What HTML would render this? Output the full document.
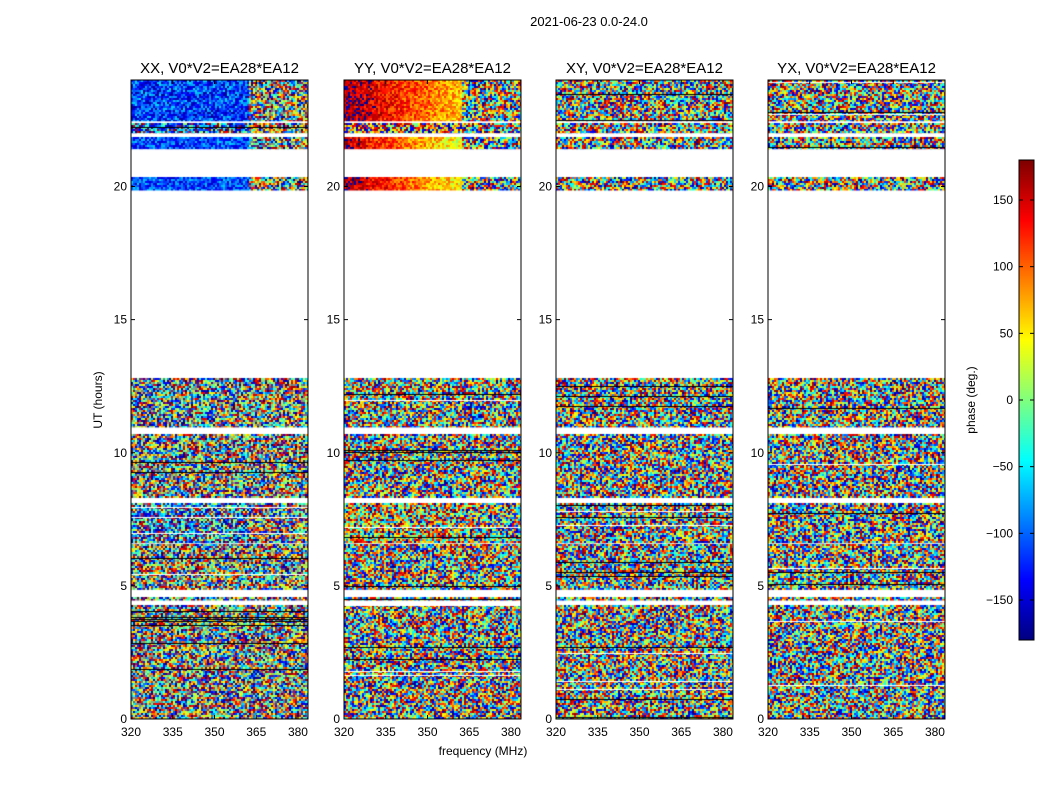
<!DOCTYPE html>
<html><head><meta charset="utf-8"><style>
body{margin:0;background:#fff;width:1050px;height:800px;overflow:hidden;font-family:"Liberation Sans",sans-serif}
svg text{font-family:"Liberation Sans",sans-serif}
</style></head><body>
<svg id="fig" width="1050" height="800" xmlns="http://www.w3.org/2000/svg">
<text x="589" y="26" font-size="13" text-anchor="middle">2021-06-23 0.0-24.0</text>
<text x="483" y="755" font-size="12" text-anchor="middle">frequency (MHz)</text>
<text x="102" y="400" font-size="12" text-anchor="middle" transform="rotate(-90 102 400)">UT (hours)</text>
<text x="975" y="400" font-size="12" text-anchor="middle" transform="rotate(-90 975 400)">phase (deg.)</text>
<g id="panels"></g>
<g id="cbar"></g>
</svg>
<script>
const panelTitles=["XX, V0*V2=EA28*EA12","YY, V0*V2=EA28*EA12","XY, V0*V2=EA28*EA12","YX, V0*V2=EA28*EA12"];
const xTicks=[320,335,350,365,380];
const yTicks=[0,5,10,15,20];
const cbTicks=[-150,-100,-50,0,50,100,150];
// time bands with data (hours)
const bandStart=[0.0,4.45,4.85,6.6,8.3,10.95,19.85,21.4,22.0,22.45];
const bandEnd=[4.25,4.55,6.55,8.1,10.7,12.8,20.35,21.85,22.35,24.0];
// mean phase per band per panel (deg) and noise spread (deg)
const meanXX=[0,0,0,-100,0,-60,-110,-110,-100,-115];
const meanYY=[0,0,0,60,0,40,170,160,120,170];
const meanXY=[0,0,0,0,0,0,0,0,0,0];
const meanYX=[0,0,0,0,0,0,0,0,0,0];
// phase slope across frequency (deg per MHz)
const slopeYY=[0,0,0,0,0,0,-3,-3,0,-2.5];
const spreadXX=[180,180,180,140,180,170,50,50,120,60];
const spreadYY=[180,180,180,150,180,170,40,40,140,40];
const spreadXY=[180,180,180,180,180,180,180,180,180,180];
const spreadYX=[180,180,180,180,180,180,180,180,180,180];
const means=[meanXX,meanYY,meanXY,meanYX], spreads=[spreadXX,spreadYY,spreadXY,spreadYX];
const slopes=[null,slopeYY,null,null];
const panelX=[131,344,556,768], PW=177, PT=80, PB=719;
const fMin=320,fMax=383.6,tMin=0,tMax=24;
const NS="http://www.w3.org/2000/svg";
function jet(v){const t=Math.max(0,Math.min(1,(v+180)/360));
 const r=Math.max(0,Math.min(1,1.5-Math.abs(4*t-3))),g=Math.max(0,Math.min(1,1.5-Math.abs(4*t-2))),b=Math.max(0,Math.min(1,1.5-Math.abs(4*t-1)));
 return `rgb(${r*255|0},${g*255|0},${b*255|0})`;}
function hash(a,b,c){let h=(a*374761393+b*668265263+c*2147483647)|0;h=(h^(h>>>13))*1274126177|0;return ((h^(h>>>16))>>>0)/4294967296;}
function el(tag,attrs,parent){const e=document.createElementNS(NS,tag);for(const k in attrs)e.setAttribute(k,attrs[k]);parent.appendChild(e);return e;}
const panels=document.getElementById('panels');
panelX.forEach((px,p)=>{
 const xs=f=>px+(f-fMin)/(fMax-fMin)*PW, ys=t=>PB-(t-tMin)/(tMax-tMin)*(PB-PT);
 const g=el('g',{},panels);
 
 
 const fo=el('foreignObject',{x:px,y:PT,width:PW,height:PB-PT},g);
 const cv=document.createElement('canvas');cv.width=PW;cv.height=PB-PT;fo.appendChild(cv);
 
 
 const ctx=cv.getContext('2d');
 bandStart.forEach((s,b)=>{
  const y0=ys(bandEnd[b])-PT,y1=ys(s)-PT;
  for(let y=Math.floor(y0);y<y1;y+=2){
   for(let x=0;x<PW;x+=2){
    const f=fMin+x/PW*(fMax-fMin);
    let sp=spreads[p][b]; if(f>362&&sp<180) sp=180;
    const sl=slopes[p]?slopes[p][b]:0;
    const v=means[p][b]+sl*(f-fMin)+(hash(x,y,p*31+b)*2-1)*sp;
    let w=((v+180)%360+360)%360-180;
    ctx.fillStyle=jet(w);ctx.fillRect(x,y,2,Math.min(2,y1-y));
   }
   if(hash(y,p,b)<0.07){ctx.fillStyle=hash(y,b,p)<0.5?'#000':'#fff';ctx.fillRect(0,y,PW,1);}
  }
 });
 el('rect',{x:px,y:PT,width:PW,height:PB-PT,fill:'none',stroke:'#000','stroke-width':1},g);
 const t=el('text',{x:px+PW/2,y:73,'font-size':15,'text-anchor':'middle'},g);t.textContent=panelTitles[p];
 
 
 xTicks.forEach(v=>{const x=xs(v);el('line',{x1:x,x2:x,y1:PB,y2:PB-4,stroke:'#000'},g);el('line',{x1:x,x2:x,y1:PT,y2:PT+4,stroke:'#000'},g);
  const tx=el('text',{x:x,y:736,'font-size':12,'text-anchor':'middle'},g);tx.textContent=v;
  
  });
 yTicks.forEach(v=>{const y=ys(v);el('line',{x1:px,x2:px+4,y1:y,y2:y,stroke:'#000'},g);el('line',{x1:px+PW,x2:px+PW-4,y1:y,y2:y,stroke:'#000'},g);
  const ty=el('text',{x:px-4,y:y+4,'font-size':12,'text-anchor':'end'},g);ty.textContent=v;
  
  });
});
const cb=document.getElementById('cbar');
const CX=1019,CW=15,CT=160,CB=640,cy=v=>CB-(v+180)/360*(CB-CT);
for(let y=CT;y<CB;y++){el('rect',{x:CX,y:y,width:CW,height:1.2,fill:jet(-180+(CB-y)/(CB-CT)*360)},cb);}
el('rect',{x:CX,y:CT,width:CW,height:CB-CT,fill:'none',stroke:'#000'},cb);


cbTicks.forEach(v=>{const y=cy(v);el('line',{x1:CX,x2:CX+4,y1:y,y2:y,stroke:'#000'},cb);el('line',{x1:CX+CW,x2:CX+CW-4,y1:y,y2:y,stroke:'#000'},cb);
 const t=el('text',{x:CX-6,y:y+4,'font-size':12,'text-anchor':'end'},cb);t.textContent=v<0?'\u2212'+(-v):v;
 
 });
</script>
</body></html>
